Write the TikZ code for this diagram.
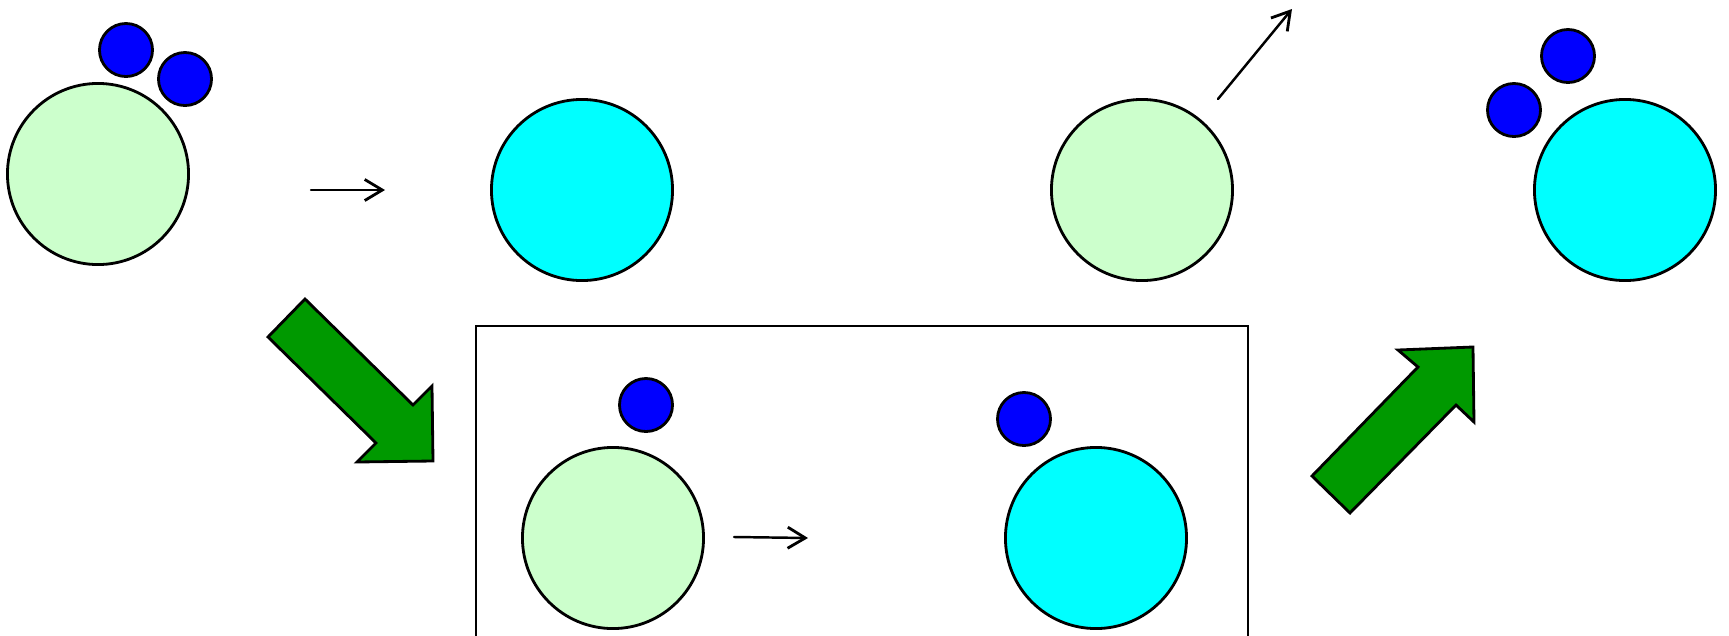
\documentclass[tikz,border=0pt]{standalone}
\usepackage{tikz}
\usetikzlibrary{arrows.meta}
\definecolor{ballgreen}{HTML}{CCFFCC}
\definecolor{ballcyan}{HTML}{00FFFF}
\definecolor{ballblue}{HTML}{0000FF}
\definecolor{arrowgreen}{HTML}{009900}

\begin{document}
\begin{tikzpicture}[x=0.01cm,y=-0.01cm,line cap=round,line join=round,
  big/.style={circle,draw=black,line width=0.8pt,inner sep=0pt,minimum size=1.81cm},
  small/.style={circle,draw=black,fill=ballblue,line width=0.8pt,inner sep=0pt,minimum size=0.53cm},
  step arrow/.style={-{Straight Barb[length=5pt,width=6pt,line width=0.8pt]},line width=0.7pt},
  fat arrow/.style={draw=black,fill=arrowgreen,line width=0.8pt,line join=miter}]
  \useasboundingbox (0,0) rectangle (1729,636);
  % top row
  \node[big,fill=ballgreen] (g1) at (98,174) {};
  \node[small] (b1) at (126,50) {};
  \node[small] (b2) at (185,79) {};
  \coordinate (s1) at (311,190);
  \coordinate (e1) at (385,190);
  \draw[step arrow] (s1) -- (e1);
  \node[big,fill=ballcyan] (c1) at (582,190) {};
  \node[big,fill=ballgreen] (g2) at (1142,190) {};
  \coordinate (s2) at (1218,99);
  \coordinate (e2) at (1292,9);
  \draw[step arrow] (s2) -- (e2);
  \node[big,fill=ballcyan] (c2) at (1625,190) {};
  \node[small] (b3) at (1568,56) {};
  \node[small] (b4) at (1514,110) {};
  % box
  \draw[line width=0.8pt,line cap=butt,line join=miter] (476,636) -- (476,326) -- (1248,326) -- (1248,636);
  % inside the box
  \node[big,fill=ballgreen] (g3) at (613,538) {};
  \node[small] (b5) at (646,405) {};
  \coordinate (s3) at (734,537);
  \coordinate (e3) at (808,538);
  \draw[step arrow] (s3) -- (e3);
  \node[big,fill=ballcyan] (c3) at (1096,538) {};
  \node[small] (b6) at (1024,419) {};
  % green arrows
  \draw[fat arrow] (305,299) -- (413,405) -- (432,386) -- (433,461) -- (357,462)
    -- (376,443) -- (268,337) -- cycle;
  \draw[fat arrow] (1312,476) -- (1418,367) -- (1398,350) -- (1473,347) -- (1474,422)
    -- (1456,405) -- (1350,513) -- cycle;
\end{tikzpicture}
\end{document}
